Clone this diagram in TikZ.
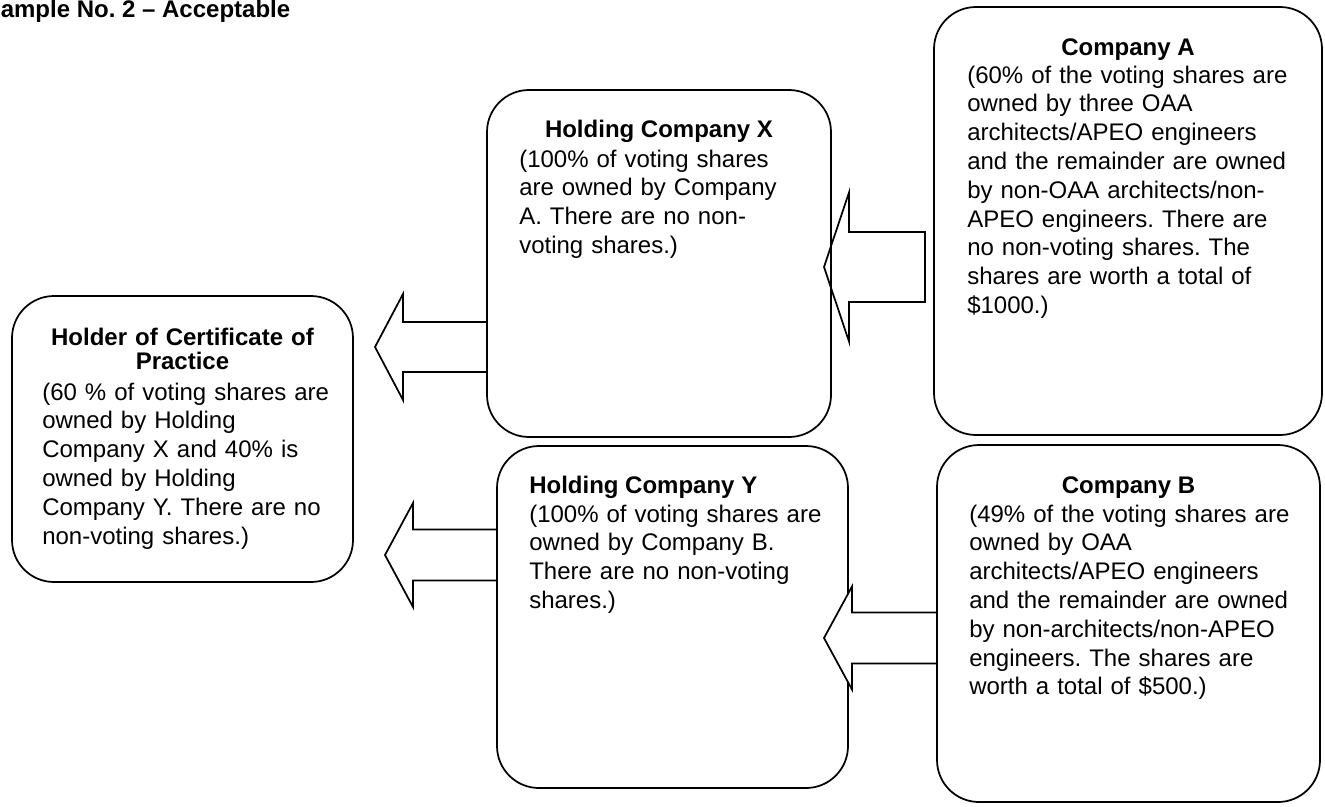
\documentclass[tikz,border=0pt]{standalone}
\usepackage{fontspec}
\setmainfont{Liberation Sans}
\frenchspacing
\usetikzlibrary{calc,fit,positioning}
\tikzset{
  box/.style={draw, line width=1.3pt, rounded corners=31.5pt, inner sep=0pt, outer sep=0pt},
  blockarr/.style={draw, line width=1.3pt, line join=miter},
  head/.style={font=\bfseries\fontsize{18pt}{18pt}\selectfont, inner sep=0pt, anchor=base},
  body/.style={font=\fontsize{18pt}{21.6pt}\selectfont, inner sep=0pt, anchor=base west,
               align=left, text width=262.5pt},
}

\begin{document}
\begin{tikzpicture}[x=0.75pt, y=-0.75pt]
  \useasboundingbox (0,0) rectangle (1325,807);

  \node[head, anchor=base west] (caption) at (0.5,17) {ample No. 2 – Acceptable};

  % boxes
  \node[box, fit={(12,296) (353,582)}] (holder) {};
  \node[box, fit={(487,90) (831,437)}] (X) {};
  \node[box, fit={(934,7) (1322,435)}] (A) {};
  \node[box, fit={(497,446) (848,788)}] (Y) {};
  \node[box, fit={(937,445) (1320,802)}] (B) {};

  % texts
  \node[head, text width=225pt, align=center] (holderhead) at ($(holder.north)+(0,49)$)
    {Holder of Certificate of\\Practice};
  \node[body] (holderbody) at ($(holder.north west)+(30,104)$)
    {(60 \% of voting shares are\\owned by Holding\\Company X and 40\% is\\owned by Holding\\Company Y. There are no\\non-voting shares.)};

  \node[head] (Xhead) at ($(X.north)+(0,47)$) {Holding Company X};
  \node[body] (Xbody) at ($(X.north west)+(32,77)$)
    {(100\% of voting shares\\are owned by Company\\A. There are no non-\\voting shares.)};

  \node[head] (Ahead) at ($(A.north)+(0,48)$) {Company A};
  \node[body] (Abody) at ($(A.north west)+(33,76)$)
    {(60\% of the voting shares are\\owned by three OAA\\architects/APEO engineers\\and the remainder are owned\\by non-OAA architects/non-\\APEO engineers. There are\\no non-voting shares. The\\shares are worth a total of\\\$1000.)};

  \node[head, anchor=base west] (Yhead) at ($(Y.north west)+(32,47)$) {Holding Company Y};
  \node[body] (Ybody) at ($(Y.north west)+(32,76)$)
    {(100\% of voting shares are\\owned by Company B.\\There are no non-voting\\shares.)};

  \node[head] (Bhead) at ($(B.north)+(0,48)$) {Company B};
  \node[body] (Bbody) at ($(B.north west)+(32,77)$)
    {(49\% of the voting shares are\\owned by OAA\\architects/APEO engineers\\and the remainder are owned\\by non-architects/non-APEO\\engineers. The shares are\\worth a total of \$500.)};

  % block arrows
  \coordinate (t1) at (375,347);
  \draw[blockarr, fill=white] (t1) -- ++(28,-53) -- ++(0,28) -- ($(X.west |- t1)+(0,-25)$)
    -- ($(X.west |- t1)+(0,25)$) -- ($(t1)+(28,25)$) -- ++(0,28) -- cycle;

  \coordinate (t2) at (385,555);
  \draw[blockarr, fill=white] (t2) -- ++(28,-52) -- ++(0,26.5) -- ($(Y.west |- t2)+(0,-25.5)$)
    -- ($(Y.west |- t2)+(0,25.5)$) -- ($(t2)+(28,25.5)$) -- ++(0,26.5) -- cycle;

  \coordinate (t3) at (824,267);
  \coordinate (e3) at (925,267);
  \draw[blockarr] (t3) -- ++(25,-74.5) -- ++(0,39.5) -- ($(e3)+(0,-35)$)
    -- ($(e3)+(0,35)$) -- ($(t3)+(25,35)$) -- ++(0,39.5) -- cycle;

  \coordinate (t4) at (824,638);
  \draw[blockarr, fill=white] (t4) -- ++(28,-51.5) -- ++(0,26) -- ($(B.west |- t4)+(0,-25.5)$)
    -- ($(B.west |- t4)+(0,25.5)$) -- ($(t4)+(28,25.5)$) -- ++(0,26) -- cycle;
\end{tikzpicture}
\end{document}
